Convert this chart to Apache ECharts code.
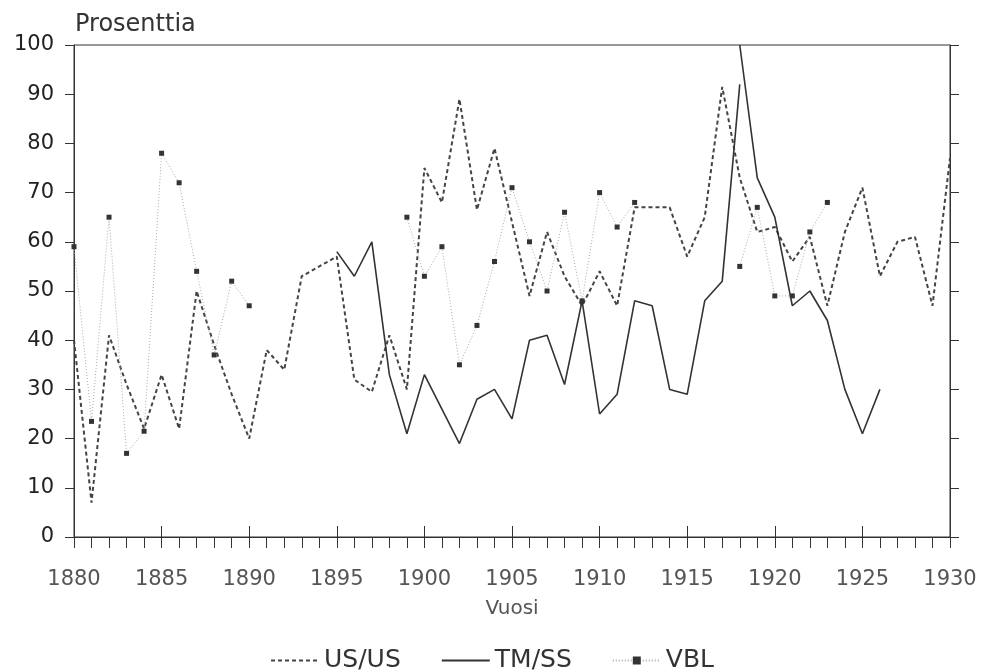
<!DOCTYPE html>
<html>
<head>
<meta charset="utf-8">
<script src="https://cdn.jsdelivr.net/npm/echarts@6/dist/echarts.min.js"></script>
<style>
  html, body { margin: 0; padding: 0; background: #fff; }
  #chart { width: 984px; height: 670px; }
</style>
</head>
<body>
<div id="chart"></div>
<script>
const years = [
  1880, 1881, 1882, 1883, 1884, 1885, 1886, 1887, 1888, 1889,
  1890, 1891, 1892, 1893, 1894, 1895, 1896, 1897, 1898, 1899,
  1900, 1901, 1902, 1903, 1904, 1905, 1906, 1907, 1908, 1909,
  1910, 1911, 1912, 1913, 1914, 1915, 1916, 1917, 1918, 1919,
  1920, 1921, 1922, 1923, 1924, 1925, 1926, 1927, 1928, 1929,
  1930,
];

// US/US
const usus = [
  40, 7, 41, 31, 22, 33, 22, 50, 39, 29,
  20, 38, 34, 53, 55, 57, 32, 29.5, 41, 30,
  75, 68, 89, 66.5, 79, 64, 49, 62, 53, 47,
  54, 47, 67, 67, 67, 57, 65, 91.5, 73, 62,
  63, 56, 61, 47, 62, 71, 53, 60, 61, 47,
  77,
];

// TM/SS (line breaks at 1918: rise ends at 92, fall starts at top of scale)
const tmss = [
  null, null, null, null, null, null, null, null, null, null,
  null, null, null, null, null, 58, 53, 60, 33, 21,
  33, 26, 19, 28, 30, 24, 40, 41, 31, 48,
  25, 29, 48, 47, 30, 29, 48, 52, 92, 73,
  65, 47, 50, 44, 30, 21, 30, null, null, null,
  null,
];
const tmssBreakYear = 1918;
const tmssBreakTop = 100;

// VBL
const vbl = [
  59, 23.5, 65, 17, 21.5, 78, 72, 54, 37, 52,
  47, null, null, null, null, null, null, null, null, 65,
  53, 59, 35, 43, 56, 71, 60, 50, 66, 48,
  70, 63, 68, null, null, null, null, null, 55, 67,
  49, 49, 62, 68, null, null, null, null, null, null,
  null,
];

const FONT = "'DejaVu Sans', sans-serif";
const INK = "#333";

const toPairs = (vals, keep) =>
  years
    .map((y, i) => [y, vals[i]])
    .filter(([y]) => (keep ? keep(y) : true))
    .map(([y, v]) => [y, v == null ? "-" : v]);

const tmssRise = toPairs(tmss, (y) => y <= tmssBreakYear);
const tmssFall = [[tmssBreakYear, tmssBreakTop]].concat(
  toPairs(tmss, (y) => y > tmssBreakYear)
);

const chart = echarts.init(document.getElementById("chart"));

const tmssStyle = {
  type: "line",
  name: "TM/SS",
  symbol: "none",
  lineStyle: { color: INK, width: 1.6, type: "solid" },
  itemStyle: { color: INK },
};

const option = {
  animation: false,
  backgroundColor: "#fff",
  textStyle: { fontFamily: FONT },
  title: {
    text: "Prosenttia",
    left: 70,
    top: 8,
    textStyle: { fontFamily: FONT, fontSize: 24, fontWeight: "normal", color: INK },
  },
  grid: {
    left: 74,
    right: 34,
    top: 45,
    bottom: 133,
    show: true,
    borderColor: INK,
    borderWidth: 1,
  },
  legend: {
    top: 643,
    left: "center",
    itemWidth: 48,
    itemHeight: 10,
    itemGap: 40,
    data: [
      { name: "US/US", itemStyle: { opacity: 0 } },
      { name: "TM/SS", itemStyle: { opacity: 0 } },
      { name: "VBL" },
    ],
    textStyle: { fontFamily: FONT, fontSize: 25, color: INK },
  },
  xAxis: [
    {
      type: "value",
      min: 1880,
      max: 1930,
      interval: 5,
      position: "bottom",
      name: "Vuosi",
      nameLocation: "middle",
      nameGap: 62,
      nameTextStyle: { fontFamily: FONT, fontSize: 20, color: "#555" },
      axisLine: { show: true, lineStyle: { color: INK, width: 1 } },
      axisTick: { show: true, length: 11, lineStyle: { color: INK } },
      minorTick: { show: true, splitNumber: 5, length: 11, lineStyle: { color: INK } },
      splitLine: { show: false },
      axisLabel: {
        margin: 32,
        fontSize: 21,
        color: "#555",
        formatter: (v) => String(v),
      },
    },
    {
      type: "value",
      min: 1880,
      max: 1930,
      interval: 5,
      position: "bottom",
      axisLine: { show: false },
      axisTick: { show: true, inside: true, length: 11, lineStyle: { color: INK } },
      splitLine: { show: false },
      axisLabel: { show: false },
    },
  ],
  yAxis: [
    {
      type: "value",
      min: 0,
      max: 100,
      interval: 10,
      position: "left",
      axisLine: { show: true, lineStyle: { color: INK, width: 1 } },
      axisTick: { show: true, length: 9, lineStyle: { color: INK } },
      splitLine: { show: false },
      axisLabel: { margin: 20, fontSize: 21, color: "#222" },
    },
    {
      type: "value",
      min: 0,
      max: 100,
      interval: 10,
      position: "right",
      axisLine: { show: true, lineStyle: { color: INK, width: 1 } },
      axisTick: { show: true, length: 9, lineStyle: { color: INK } },
      splitLine: { show: false },
      axisLabel: { show: false },
    },
  ],
  series: [
    {
      type: "line",
      name: "US/US",
      data: toPairs(usus),
      symbol: "none",
      lineStyle: { color: "#444", width: 2, type: [4, 3] },
      itemStyle: { color: "#444" },
    },
    Object.assign({ data: tmssRise }, tmssStyle),
    Object.assign({ data: tmssFall }, tmssStyle),
    {
      type: "line",
      name: "VBL",
      data: toPairs(vbl),
      symbol: "rect",
      symbolSize: 5,
      showSymbol: true,
      itemStyle: { color: "#333" },
      lineStyle: { color: "#aaa", width: 1, type: [1, 2] },
    },
  ],
};

chart.setOption(option);
</script>
</body>
</html>
